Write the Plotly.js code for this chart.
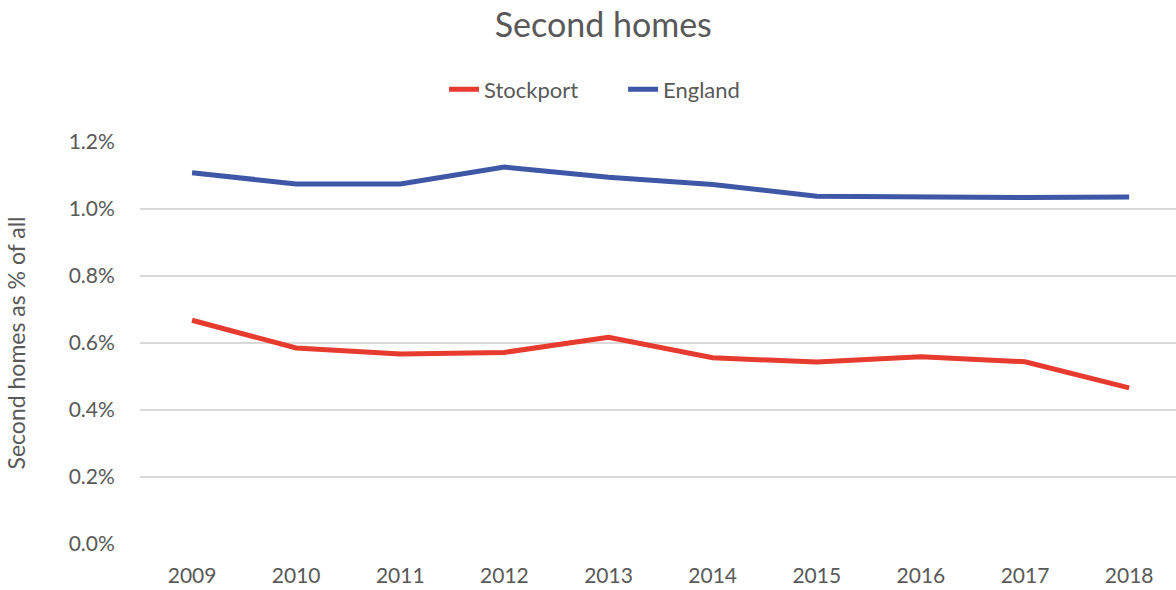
<!DOCTYPE html>
<html>
<head>
<meta charset="utf-8">
<script src="https://cdn.plot.ly/plotly-3.0.1.min.js"></script>
<style>html,body{margin:0;padding:0;background:#fff;}#chart{width:1176px;height:590px;}</style>
</head>
<body>
<div id="chart"></div>
<script>
const years = ['2009','2010','2011','2012','2013','2014','2015','2016','2017','2018'];
const stockport = [0.668, 0.585, 0.567, 0.572, 0.617, 0.556, 0.543, 0.559, 0.544, 0.466];
const england = [1.108, 1.075, 1.075, 1.125, 1.095, 1.073, 1.038, 1.035, 1.034, 1.036];
const yTicks = [0, 0.2, 0.4, 0.6, 0.8, 1.0, 1.2];
const yTickText = ['0.0%','0.2%','0.4%','0.6%','0.8%','1.0%','1.2%'];

const FONT = 'Lato, "Open Sans", sans-serif';
const traces = [
  {x: years, y: stockport, name: 'Stockport', type: 'scatter', mode: 'lines',
   line: {color: '#E63B2E', width: 5}},
  {x: years, y: england, name: 'England', type: 'scatter', mode: 'lines',
   line: {color: '#3E57A6', width: 5}}
];
const layout = {
  width: 1176, height: 590,
  margin: {l: 140, r: 0, t: 141.7, b: 45.7},
  paper_bgcolor: '#ffffff', plot_bgcolor: '#ffffff',
  font: {family: FONT, color: '#595959', size: 20},
  title: {text: 'Second homes', font: {family: FONT, size: 34, color: '#595959'},
          x: 0.513, xanchor: 'center', y: 0.957, yanchor: 'middle'},
  showlegend: true,
  legend: {orientation: 'h', x: 0.2935, xanchor: 'left', y: 1.131, yanchor: 'middle',
           entrywidth: 134, entrywidthmode: 'pixels',
           font: {family: FONT, size: 22, color: '#595959'}, traceorder: 'normal'},
  xaxis: {type: 'category', range: [-0.5, 9.45], showgrid: false, zeroline: false,
          showline: false, ticks: 'outside', ticklen: 13, tickcolor: 'rgba(0,0,0,0)',
          tickfont: {family: FONT, size: 21, color: '#595959'}, fixedrange: true},
  yaxis: {range: [0, 1.2], tickvals: yTicks, ticktext: yTickText, showgrid: true,
          gridcolor: '#d9d9d9', gridwidth: 1.5, zeroline: false, showline: false,
          ticks: 'outside', ticklen: 20, tickcolor: 'rgba(0,0,0,0)',
          tickfont: {family: FONT, size: 21, color: '#595959'},
          title: {text: 'Second homes as % of all', font: {family: FONT, size: 23, color: '#595959'}, standoff: 36},
          fixedrange: true}
};
Plotly.newPlot('chart', traces, layout, {displayModeBar: false, staticPlot: true});
</script>
</body>
</html>
